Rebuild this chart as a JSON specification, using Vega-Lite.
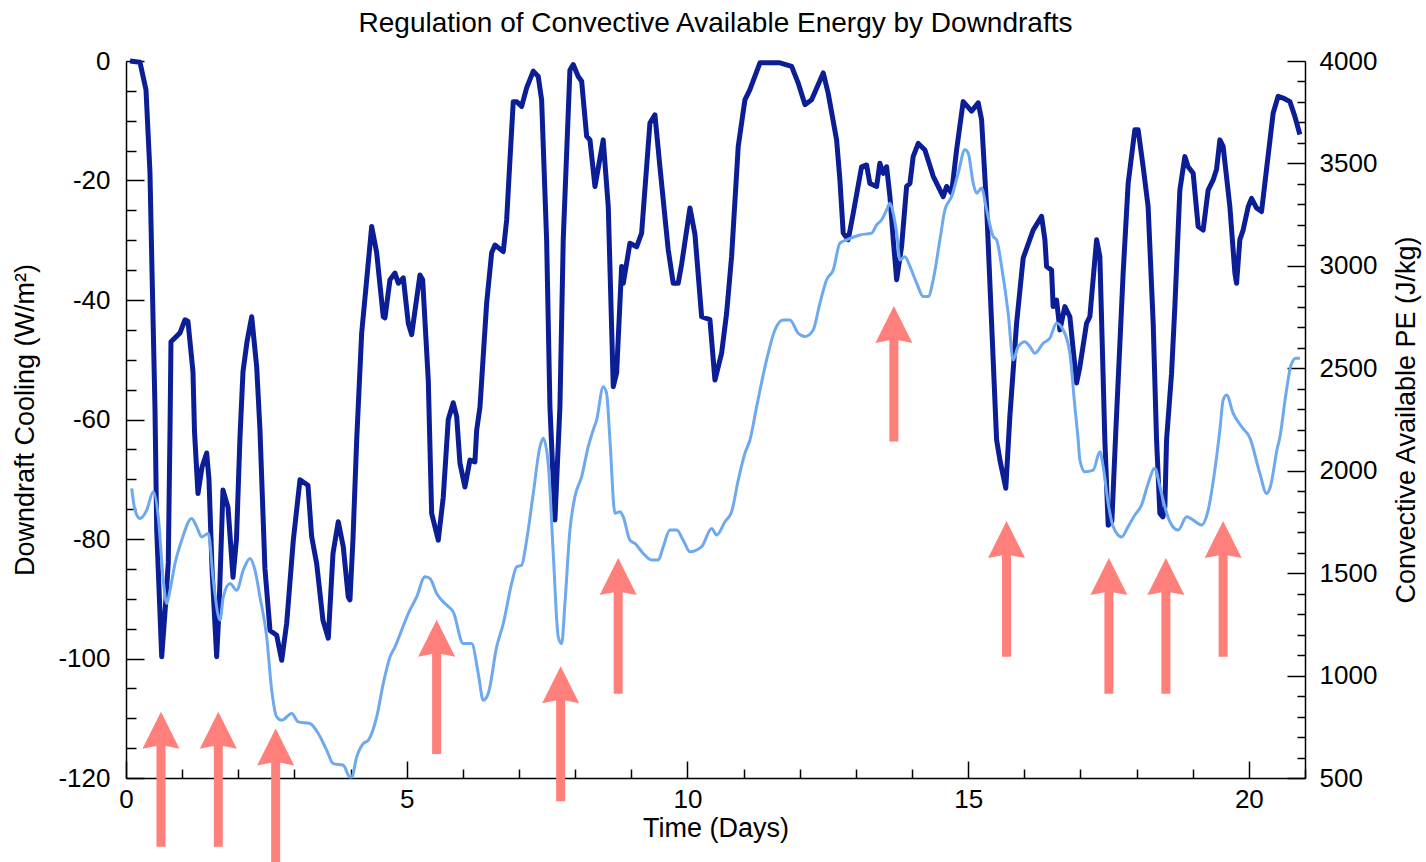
{
  "$schema": "https://vega.github.io/schema/vega-lite/v6.json",
  "width": 1179,
  "height": 717,
  "autosize": {"type": "none"},
  "padding": {"left": 126, "top": 61, "right": 121, "bottom": 84},
  "background": "white",
  "title": {"text": "Regulation of Convective Available Energy by Downdrafts", "font": "Liberation Sans", "fontSize": 28, "fontWeight": "normal", "color": "black", "anchor": "middle", "offset": 10},
  "config": {
    "view": {"stroke": null},
    "axis": {"grid": false, "domainColor": "black", "domainWidth": 1.5, "tickColor": "black", "tickWidth": 1.5, "labelFont": "Liberation Sans", "labelFontSize": 26, "labelColor": "black", "labelOverlap": false, "labelFlush": false, "labelBound": false, "titleFont": "Liberation Sans", "titleFontSize": 27, "titleFontWeight": "normal", "titleColor": "black"}
  },
  "datasets": {
    "cooling": [
      {"t": 0.071, "v": 0}, {"t": 0.249, "v": -0.2}, {"t": 0.356, "v": -4.8}, {"t": 0.427, "v": -18.7}, {"t": 0.463, "v": -35}, {"t": 0.516, "v": -58}, {"t": 0.547, "v": -78.5}, {"t": 0.636, "v": -99.7}, {"t": 0.712, "v": -90}, {"t": 0.753, "v": -84}, {"t": 0.784, "v": -61.7}, {"t": 0.801, "v": -47},
      {"t": 0.962, "v": -45.5}, {"t": 1.051, "v": -43.3}, {"t": 1.104, "v": -43.6}, {"t": 1.193, "v": -52}, {"t": 1.22, "v": -62}, {"t": 1.282, "v": -72.4}, {"t": 1.353, "v": -68}, {"t": 1.437, "v": -65.6}, {"t": 1.478, "v": -70}, {"t": 1.532, "v": -85}, {"t": 1.615, "v": -99.7}, {"t": 1.656, "v": -92},
      {"t": 1.727, "v": -71.8}, {"t": 1.817, "v": -74.7}, {"t": 1.906, "v": -86.4}, {"t": 1.968, "v": -80}, {"t": 2.03, "v": -63}, {"t": 2.084, "v": -52}, {"t": 2.155, "v": -47}, {"t": 2.239, "v": -42.8}, {"t": 2.328, "v": -51.2}, {"t": 2.386, "v": -61.7}, {"t": 2.475, "v": -85}, {"t": 2.565, "v": -95.3},
      {"t": 2.684, "v": -96.1}, {"t": 2.773, "v": -100.3}, {"t": 2.862, "v": -94.1}, {"t": 2.98, "v": -80.2}, {"t": 3.099, "v": -70.1}, {"t": 3.241, "v": -71}, {"t": 3.307, "v": -79.6}, {"t": 3.396, "v": -84.1}, {"t": 3.508, "v": -93.6}, {"t": 3.603, "v": -96.6}, {"t": 3.687, "v": -82.4}, {"t": 3.781, "v": -77.1},
      {"t": 3.87, "v": -81.3}, {"t": 3.959, "v": -89.7}, {"t": 3.989, "v": -90.2}, {"t": 4.043, "v": -80}, {"t": 4.109, "v": -63.4}, {"t": 4.198, "v": -45.5}, {"t": 4.287, "v": -36.6}, {"t": 4.376, "v": -27.7}, {"t": 4.465, "v": -32.1}, {"t": 4.582, "v": -42.8}, {"t": 4.613, "v": -43}, {"t": 4.702, "v": -36.6},
      {"t": 4.791, "v": -35.5}, {"t": 4.85, "v": -37.2}, {"t": 4.939, "v": -36.3}, {"t": 5.028, "v": -43.9}, {"t": 5.088, "v": -45.8}, {"t": 5.236, "v": -35.8}, {"t": 5.284, "v": -36.6}, {"t": 5.384, "v": -53.4}, {"t": 5.444, "v": -75.7}, {"t": 5.562, "v": -80.2}, {"t": 5.651, "v": -73}, {"t": 5.74, "v": -60},
      {"t": 5.829, "v": -57.2}, {"t": 5.89, "v": -59.5}, {"t": 5.948, "v": -67.3}, {"t": 6.037, "v": -71.3}, {"t": 6.126, "v": -66.8}, {"t": 6.215, "v": -67.1}, {"t": 6.246, "v": -61.8}, {"t": 6.305, "v": -57.9}, {"t": 6.424, "v": -40.5}, {"t": 6.513, "v": -32.1}, {"t": 6.572, "v": -30.8}, {"t": 6.72, "v": -31.9},
      {"t": 6.78, "v": -26.6}, {"t": 6.839, "v": -16.5}, {"t": 6.898, "v": -6.8}, {"t": 6.958, "v": -6.8}, {"t": 7.047, "v": -7.6}, {"t": 7.136, "v": -4.5}, {"t": 7.254, "v": -1.7}, {"t": 7.343, "v": -2.6}, {"t": 7.403, "v": -6.5}, {"t": 7.492, "v": -29.9}, {"t": 7.551, "v": -57.9}, {"t": 7.64, "v": -76.8},
      {"t": 7.729, "v": -57.9}, {"t": 7.788, "v": -29.9}, {"t": 7.907, "v": -1.5}, {"t": 7.966, "v": -0.6}, {"t": 8.055, "v": -2.6}, {"t": 8.116, "v": -3.4}, {"t": 8.205, "v": -12.6}, {"t": 8.264, "v": -13.2}, {"t": 8.353, "v": -21}, {"t": 8.5, "v": -13.2}, {"t": 8.59, "v": -24.4}, {"t": 8.679, "v": -54.5},
      {"t": 8.739, "v": -52.2}, {"t": 8.828, "v": -34.4}, {"t": 8.857, "v": -37.2}, {"t": 8.976, "v": -30.5}, {"t": 9.095, "v": -31.1}, {"t": 9.184, "v": -28.8}, {"t": 9.332, "v": -10.4}, {"t": 9.421, "v": -9}, {"t": 9.51, "v": -17.7}, {"t": 9.658, "v": -31.6}, {"t": 9.747, "v": -37.2}, {"t": 9.836, "v": -37.2},
      {"t": 9.897, "v": -34}, {"t": 10.045, "v": -24.6}, {"t": 10.134, "v": -29}, {"t": 10.253, "v": -42.8}, {"t": 10.401, "v": -43.3}, {"t": 10.49, "v": -53.4}, {"t": 10.609, "v": -48.9}, {"t": 10.698, "v": -42.2}, {"t": 10.787, "v": -32.7}, {"t": 10.905, "v": -14.3}, {"t": 11.024, "v": -6.5}, {"t": 11.113, "v": -4.8},
      {"t": 11.291, "v": -0.3}, {"t": 11.647, "v": -0.3}, {"t": 11.856, "v": -0.9}, {"t": 11.973, "v": -3.7}, {"t": 12.093, "v": -7.3}, {"t": 12.212, "v": -6.5}, {"t": 12.419, "v": -2}, {"t": 12.507, "v": -5.4}, {"t": 12.657, "v": -13.2}, {"t": 12.716, "v": -19.9}, {"t": 12.775, "v": -28.8}, {"t": 12.864, "v": -29.9},
      {"t": 12.953, "v": -25.5}, {"t": 13.102, "v": -17.7}, {"t": 13.191, "v": -17.4}, {"t": 13.25, "v": -20.5}, {"t": 13.37, "v": -21}, {"t": 13.428, "v": -17.1}, {"t": 13.487, "v": -18.8}, {"t": 13.548, "v": -17.7}, {"t": 13.607, "v": -22.7}, {"t": 13.666, "v": -29.9}, {"t": 13.727, "v": -36.6}, {"t": 13.815, "v": -31},
      {"t": 13.904, "v": -21}, {"t": 13.963, "v": -20.5}, {"t": 14.021, "v": -16}, {"t": 14.111, "v": -13.8}, {"t": 14.23, "v": -14.9}, {"t": 14.378, "v": -19.3}, {"t": 14.556, "v": -22.7}, {"t": 14.616, "v": -21}, {"t": 14.705, "v": -22.1}, {"t": 14.794, "v": -14.9}, {"t": 14.912, "v": -6.8}, {"t": 15.061, "v": -8.4},
      {"t": 15.179, "v": -7}, {"t": 15.239, "v": -9.8}, {"t": 15.329, "v": -24.4}, {"t": 15.418, "v": -43.9}, {"t": 15.507, "v": -63.4}, {"t": 15.566, "v": -66.8}, {"t": 15.671, "v": -71.5}, {"t": 15.743, "v": -59.5}, {"t": 15.863, "v": -43.9}, {"t": 15.98, "v": -33}, {"t": 16.158, "v": -28.3}, {"t": 16.308, "v": -26},
      {"t": 16.367, "v": -29.9}, {"t": 16.397, "v": -34.4}, {"t": 16.486, "v": -35}, {"t": 16.514, "v": -41.1}, {"t": 16.575, "v": -40}, {"t": 16.634, "v": -45}, {"t": 16.723, "v": -41.1}, {"t": 16.812, "v": -42.8}, {"t": 16.931, "v": -53.9}, {"t": 16.99, "v": -51.2}, {"t": 17.109, "v": -43.9}, {"t": 17.168, "v": -42.8},
      {"t": 17.288, "v": -29.9}, {"t": 17.346, "v": -32.7}, {"t": 17.435, "v": -63.4}, {"t": 17.494, "v": -77.7}, {"t": 17.56, "v": -77}, {"t": 17.631, "v": -61.8}, {"t": 17.761, "v": -35.5}, {"t": 17.85, "v": -20.5}, {"t": 17.969, "v": -11.5}, {"t": 18.028, "v": -11.5}, {"t": 18.117, "v": -17.7}, {"t": 18.206, "v": -24.4},
      {"t": 18.296, "v": -43.9}, {"t": 18.356, "v": -63.4}, {"t": 18.415, "v": -75.7}, {"t": 18.468, "v": -76.3}, {"t": 18.504, "v": -74.6}, {"t": 18.534, "v": -63.4}, {"t": 18.623, "v": -52.3}, {"t": 18.682, "v": -41.1}, {"t": 18.771, "v": -21.6}, {"t": 18.86, "v": -16}, {"t": 18.919, "v": -17.7}, {"t": 19.008, "v": -18.8},
      {"t": 19.097, "v": -27.7}, {"t": 19.186, "v": -28.3}, {"t": 19.275, "v": -21.6}, {"t": 19.364, "v": -19.9}, {"t": 19.425, "v": -18.1}, {"t": 19.484, "v": -13.2}, {"t": 19.542, "v": -14.3}, {"t": 19.662, "v": -24.4}, {"t": 19.751, "v": -35.5}, {"t": 19.781, "v": -37.2}, {"t": 19.84, "v": -29.9}, {"t": 19.898, "v": -28.3},
      {"t": 19.988, "v": -24.4}, {"t": 20.048, "v": -23}, {"t": 20.137, "v": -24.6}, {"t": 20.226, "v": -25.2}, {"t": 20.315, "v": -18.1}, {"t": 20.433, "v": -8.7}, {"t": 20.522, "v": -5.9}, {"t": 20.611, "v": -6.2}, {"t": 20.731, "v": -6.8}, {"t": 20.82, "v": -9.3}, {"t": 20.909, "v": -12.3}
    ],
    "cape": [
      {"t": 0.102, "c": 1914}, {"t": 0.16, "c": 1808}, {"t": 0.249, "c": 1767}, {"t": 0.369, "c": 1808}, {"t": 0.486, "c": 1897}, {"t": 0.575, "c": 1775}, {"t": 0.664, "c": 1466}, {"t": 0.725, "c": 1352}, {"t": 0.784, "c": 1417}, {"t": 0.873, "c": 1547}, {"t": 0.992, "c": 1661}, {"t": 1.17, "c": 1767},
      {"t": 1.259, "c": 1726}, {"t": 1.348, "c": 1677}, {"t": 1.466, "c": 1694}, {"t": 1.555, "c": 1466}, {"t": 1.674, "c": 1271}, {"t": 1.733, "c": 1384}, {"t": 1.852, "c": 1449}, {"t": 1.972, "c": 1417}, {"t": 2.089, "c": 1515}, {"t": 2.208, "c": 1572}, {"t": 2.297, "c": 1515}, {"t": 2.386, "c": 1384},
      {"t": 2.506, "c": 1189}, {"t": 2.595, "c": 929}, {"t": 2.684, "c": 798}, {"t": 2.773, "c": 782}, {"t": 2.951, "c": 815}, {"t": 3.069, "c": 774}, {"t": 3.277, "c": 766}, {"t": 3.425, "c": 717}, {"t": 3.574, "c": 636}, {"t": 3.692, "c": 570}, {"t": 3.87, "c": 562}, {"t": 3.989, "c": 505},
      {"t": 4.02, "c": 505}, {"t": 4.109, "c": 603}, {"t": 4.226, "c": 668}, {"t": 4.315, "c": 684}, {"t": 4.465, "c": 798}, {"t": 4.582, "c": 961}, {"t": 4.702, "c": 1091}, {"t": 4.791, "c": 1140}, {"t": 4.91, "c": 1222}, {"t": 5.028, "c": 1303}, {"t": 5.177, "c": 1384}, {"t": 5.325, "c": 1482},
      {"t": 5.414, "c": 1474}, {"t": 5.533, "c": 1401}, {"t": 5.711, "c": 1344}, {"t": 5.829, "c": 1311}, {"t": 6.007, "c": 1156}, {"t": 6.157, "c": 1156}, {"t": 6.274, "c": 1010}, {"t": 6.363, "c": 880}, {"t": 6.452, "c": 912}, {"t": 6.602, "c": 1140}, {"t": 6.72, "c": 1254}, {"t": 6.869, "c": 1450},
      {"t": 6.958, "c": 1531}, {"t": 7.047, "c": 1539}, {"t": 7.136, "c": 1661}, {"t": 7.254, "c": 1889}, {"t": 7.373, "c": 2117}, {"t": 7.431, "c": 2158}, {"t": 7.52, "c": 2036}, {"t": 7.61, "c": 1596}, {"t": 7.699, "c": 1189}, {"t": 7.76, "c": 1156}, {"t": 7.818, "c": 1352}, {"t": 7.907, "c": 1710},
      {"t": 7.996, "c": 1873}, {"t": 8.116, "c": 1971}, {"t": 8.233, "c": 2117}, {"t": 8.322, "c": 2199}, {"t": 8.383, "c": 2248}, {"t": 8.5, "c": 2410}, {"t": 8.56, "c": 2378}, {"t": 8.62, "c": 2150}, {"t": 8.709, "c": 1792}, {"t": 8.798, "c": 1800}, {"t": 8.857, "c": 1775}, {"t": 8.976, "c": 1661},
      {"t": 9.065, "c": 1645}, {"t": 9.213, "c": 1596}, {"t": 9.362, "c": 1564}, {"t": 9.48, "c": 1564}, {"t": 9.569, "c": 1629}, {"t": 9.688, "c": 1710}, {"t": 9.808, "c": 1710}, {"t": 9.925, "c": 1661}, {"t": 10.045, "c": 1604}, {"t": 10.253, "c": 1629}, {"t": 10.431, "c": 1718}, {"t": 10.52, "c": 1686},
      {"t": 10.668, "c": 1751}, {"t": 10.787, "c": 1800}, {"t": 10.905, "c": 1954}, {"t": 11.024, "c": 2085}, {"t": 11.113, "c": 2150}, {"t": 11.233, "c": 2313}, {"t": 11.41, "c": 2541}, {"t": 11.558, "c": 2687}, {"t": 11.706, "c": 2736}, {"t": 11.825, "c": 2736}, {"t": 11.973, "c": 2671}, {"t": 12.093, "c": 2655},
      {"t": 12.24, "c": 2687}, {"t": 12.36, "c": 2818}, {"t": 12.479, "c": 2932}, {"t": 12.597, "c": 2980}, {"t": 12.716, "c": 3111}, {"t": 12.835, "c": 3127}, {"t": 13.072, "c": 3151}, {"t": 13.28, "c": 3160}, {"t": 13.37, "c": 3200}, {"t": 13.459, "c": 3225}, {"t": 13.548, "c": 3273}, {"t": 13.607, "c": 3306},
      {"t": 13.666, "c": 3257}, {"t": 13.727, "c": 3160}, {"t": 13.785, "c": 3029}, {"t": 13.874, "c": 3045}, {"t": 13.963, "c": 2997}, {"t": 14.083, "c": 2916}, {"t": 14.2, "c": 2850}, {"t": 14.289, "c": 2850}, {"t": 14.378, "c": 2932}, {"t": 14.497, "c": 3127}, {"t": 14.586, "c": 3273}, {"t": 14.705, "c": 3338},
      {"t": 14.823, "c": 3453}, {"t": 14.942, "c": 3567}, {"t": 15.001, "c": 3551}, {"t": 15.09, "c": 3404}, {"t": 15.15, "c": 3355}, {"t": 15.239, "c": 3380}, {"t": 15.329, "c": 3273}, {"t": 15.446, "c": 3143}, {"t": 15.507, "c": 3127}, {"t": 15.596, "c": 2997}, {"t": 15.713, "c": 2769}, {"t": 15.802, "c": 2541},
      {"t": 15.891, "c": 2606}, {"t": 16.011, "c": 2630}, {"t": 16.1, "c": 2606}, {"t": 16.189, "c": 2573}, {"t": 16.337, "c": 2622}, {"t": 16.456, "c": 2647}, {"t": 16.575, "c": 2720}, {"t": 16.693, "c": 2687}, {"t": 16.812, "c": 2573}, {"t": 16.901, "c": 2313}, {"t": 16.96, "c": 2150}, {"t": 16.99, "c": 2052},
      {"t": 17.079, "c": 1995}, {"t": 17.227, "c": 2003}, {"t": 17.346, "c": 2093}, {"t": 17.405, "c": 2020}, {"t": 17.494, "c": 1841}, {"t": 17.583, "c": 1727}, {"t": 17.733, "c": 1677}, {"t": 17.85, "c": 1727}, {"t": 17.969, "c": 1784}, {"t": 18.088, "c": 1832}, {"t": 18.206, "c": 1938}, {"t": 18.326, "c": 2012},
      {"t": 18.415, "c": 1922}, {"t": 18.504, "c": 1824}, {"t": 18.593, "c": 1751}, {"t": 18.741, "c": 1710}, {"t": 18.891, "c": 1775}, {"t": 19.008, "c": 1759}, {"t": 19.158, "c": 1735}, {"t": 19.275, "c": 1808}, {"t": 19.394, "c": 2003}, {"t": 19.484, "c": 2199}, {"t": 19.542, "c": 2345}, {"t": 19.603, "c": 2370},
      {"t": 19.721, "c": 2280}, {"t": 19.87, "c": 2215}, {"t": 20.018, "c": 2160}, {"t": 20.196, "c": 1987}, {"t": 20.315, "c": 1889}, {"t": 20.383, "c": 1922}, {"t": 20.512, "c": 2117}, {"t": 20.543, "c": 2150}, {"t": 20.662, "c": 2378}, {"t": 20.751, "c": 2516}, {"t": 20.838, "c": 2549}, {"t": 20.909, "c": 2549}
    ],
    "arrows": [
      {"t": 0.623, "tip": -108.9, "neck": -114.2, "tail": -131.5},
      {"t": 1.644, "tip": -108.9, "neck": -114.2, "tail": -131.5},
      {"t": 2.666, "tip": -111.7, "neck": -117.0, "tail": -134.5},
      {"t": 5.533, "tip": -93.5, "neck": -98.8, "tail": -116.0},
      {"t": 7.742, "tip": -101.3, "neck": -106.6, "tail": -123.9},
      {"t": 8.767, "tip": -83.2, "neck": -88.5, "tail": -105.9},
      {"t": 13.677, "tip": -41.0, "neck": -46.3, "tail": -63.7},
      {"t": 15.684, "tip": -77.0, "neck": -82.3, "tail": -99.7},
      {"t": 17.507, "tip": -83.2, "neck": -88.5, "tail": -105.9},
      {"t": 18.522, "tip": -83.2, "neck": -88.5, "tail": -105.9},
      {"t": 19.542, "tip": -77.0, "neck": -82.3, "tail": -99.7}
    ]
  },
  "encoding": {
    "x": {"field": "t", "type": "quantitative", "scale": {"domain": [0, 21], "nice": false, "zero": false},
      "axis": {"orient": "bottom", "title": "Time (Days)", "values": [0,1,2,3,4,5,6,7,8,9,10,11,12,13,14,15,16,17,18,19,20,21], "labelExpr": "datum.value % 5 === 0 ? '' + datum.value : ''", "tickSize": {"condition": {"test": "datum.value % 5 === 0", "value": -17}, "value": -9}, "labelPadding": 25, "titlePadding": -5}}
  },
  "layer": [
    {
      "data": {"name": "cooling"},
      "mark": {"type": "line", "color": "#0B1E96", "strokeWidth": 5, "strokeJoin": "round"},
      "encoding": {
        "y": {"field": "v", "type": "quantitative", "scale": {"domain": [-120, 0], "nice": false, "zero": false},
          "axis": {"orient": "left", "title": "Downdraft Cooling (W/m²)", "values": [-120,-115,-110,-105,-100,-95,-90,-85,-80,-75,-70,-65,-60,-55,-50,-45,-40,-35,-30,-25,-20,-15,-10,-5,0], "labelExpr": "datum.value % 20 === 0 ? '' + datum.value : ''", "tickSize": {"condition": {"test": "datum.value % 20 === 0", "value": -18}, "value": -10}, "labelPadding": 34, "titlePadding": 18}}
      }
    },
    {
      "data": {"name": "cape"},
      "mark": {"type": "line", "color": "#6EA8EE", "strokeWidth": 3, "interpolate": "monotone"},
      "encoding": {
        "y": {"field": "c", "type": "quantitative", "scale": {"domain": [500, 4000], "nice": false, "zero": false},
          "axis": {"orient": "right", "title": "Convective Available PE (J/kg)", "titleAngle": 270, "titleBaseline": "top", "values": [500,600,700,800,900,1000,1100,1200,1300,1400,1500,1600,1700,1800,1900,2000,2100,2200,2300,2400,2500,2600,2700,2800,2900,3000,3100,3200,3300,3400,3500,3600,3700,3800,3900,4000], "labelExpr": "datum.value % 500 === 0 ? '' + datum.value : ''", "tickSize": {"condition": {"test": "datum.value % 500 === 0", "value": -18}, "value": -8}, "labelPadding": 32, "titlePadding": 17}}
      }
    },
    {
      "data": {"name": "arrows"},
      "mark": {"type": "rule", "color": "#FF7F7B", "strokeWidth": 9, "strokeCap": "butt", "clip": false},
      "encoding": {
        "y": {"field": "tail", "type": "quantitative", "scale": {"domain": [-120, 0], "nice": false, "zero": false}, "axis": null},
        "y2": {"field": "neck"}
      }
    },
    {
      "data": {"name": "arrows"},
      "mark": {"type": "point", "shape": "M0,0L1,2L0,1.8L-1,2Z", "filled": true, "size": 1369, "color": "#FF7F7B", "opacity": 1, "strokeWidth": 0, "clip": false},
      "encoding": {
        "y": {"field": "tip", "type": "quantitative", "scale": {"domain": [-120, 0], "nice": false, "zero": false}, "axis": null}
      }
    }
  ],
  "resolve": {"scale": {"y": "independent"}, "axis": {"y": "independent"}}
}
